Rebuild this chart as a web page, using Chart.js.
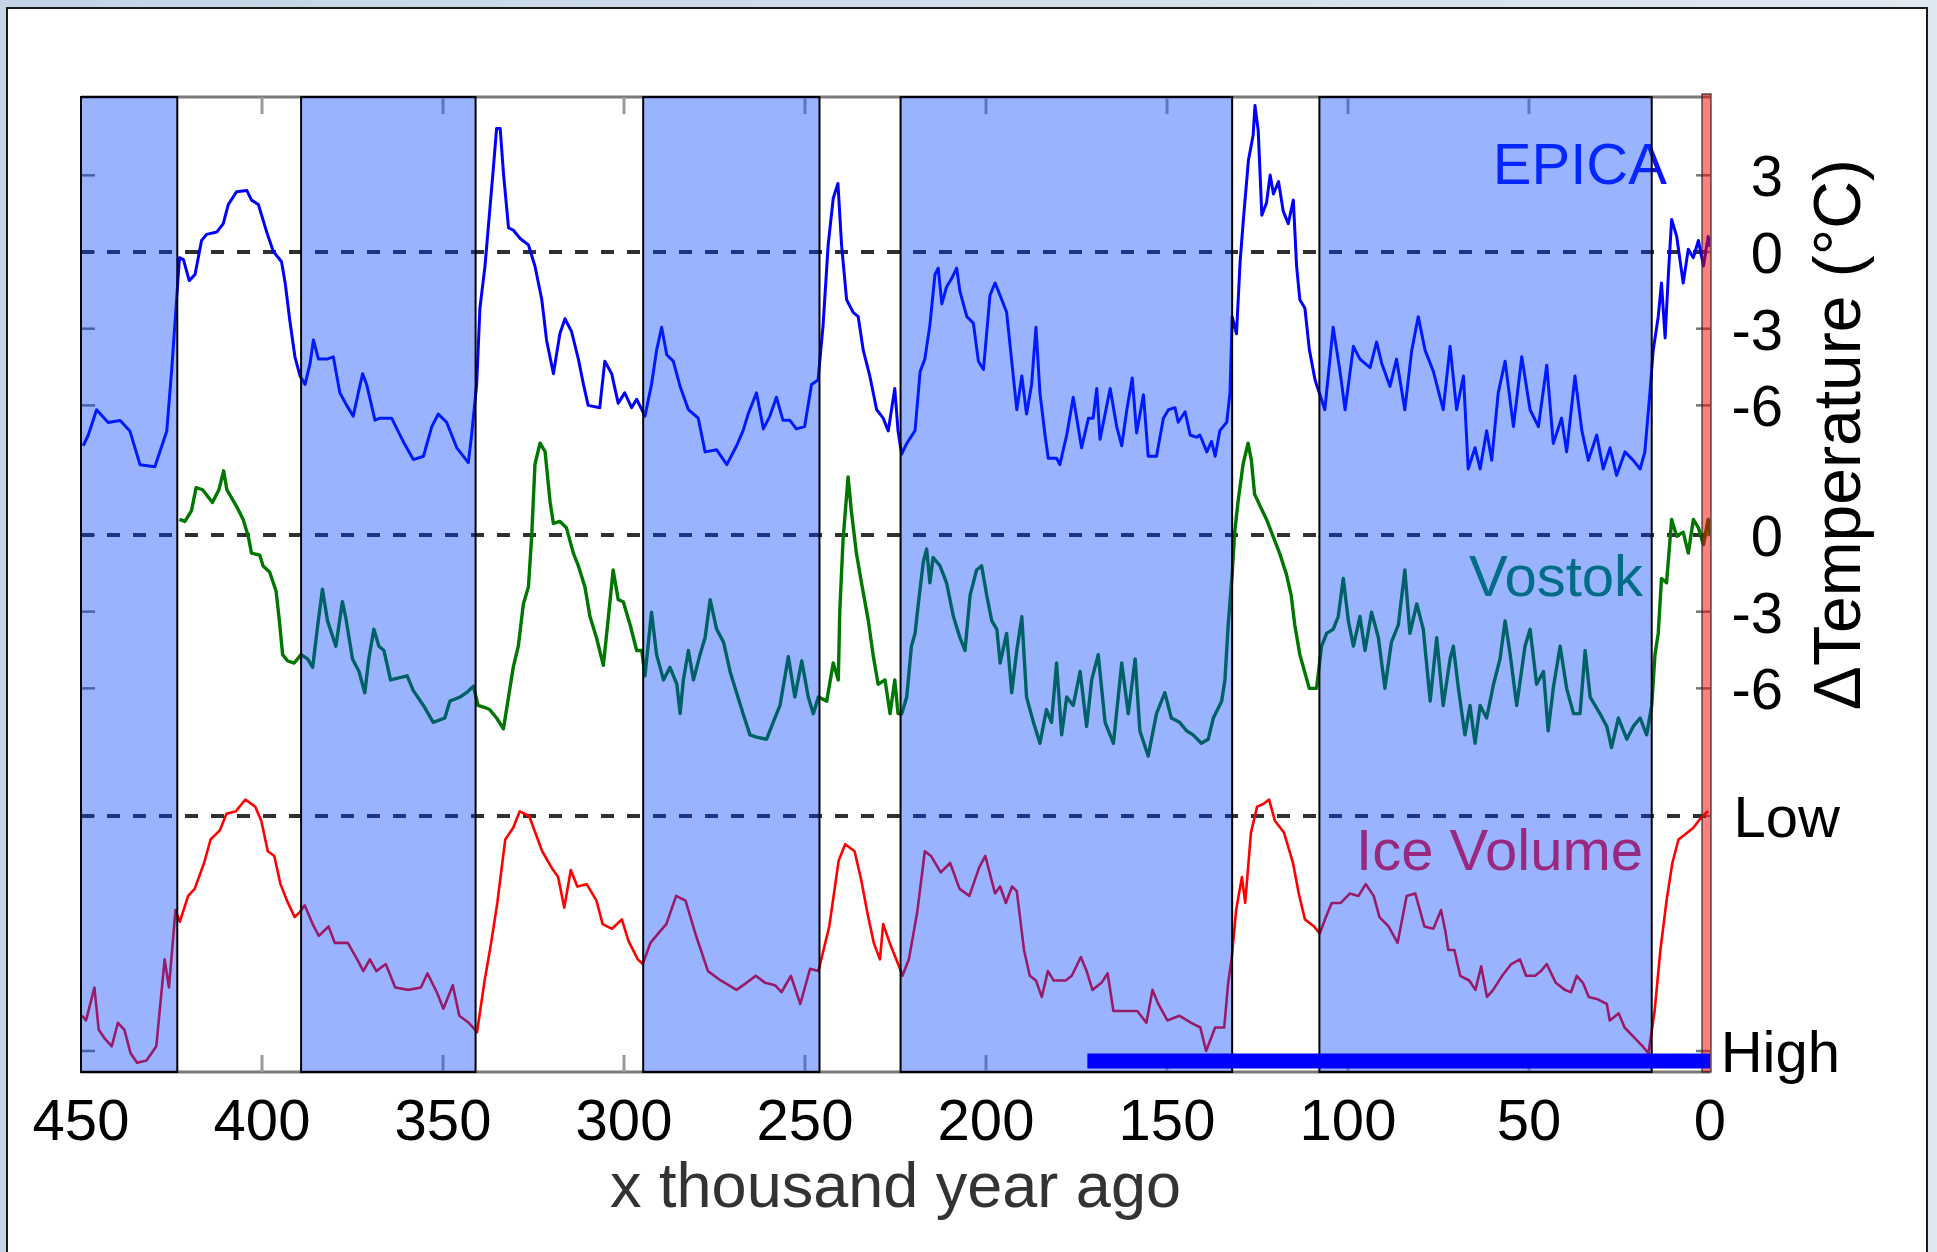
<!DOCTYPE html>
<html>
<head>
<meta charset="utf-8">
<script src="https://cdn.jsdelivr.net/npm/chart.js@4.4.1/dist/chart.umd.min.js"></script>
<style>
html,body{margin:0;padding:0;width:1937px;height:1252px;overflow:hidden;
  background:linear-gradient(90deg,#c4d4e5 0%,#d2dfeb 55%,#dfe9f2 100%);}
#box{position:absolute;left:6px;top:7px;width:1918px;height:1300px;background:#fff;border:2px solid #1a1a1a;}
#wrap{position:absolute;left:0;top:0;width:1937px;height:1252px;}
</style>
</head>
<body>
<div id="box"></div>
<div id="wrap"><canvas id="c"></canvas></div>
<script>
const FONT = '"Liberation Sans", Arial, Helvetica, sans-serif';

// ---------- DATA (ages in thousand years ago) ----------
const epicaAge = [449.4,448.0,445.7,442.5,439.2,436.5,433.7,429.6,426.3,424.9,423.6,422.8,421.7,420.1,418.5,416.7,415.3,412.5,410.7,409.3,407.0,404.2,402.9,401.0,398.7,396.9,394.6,393.6,392.3,390.9,389.5,388.1,386.7,385.8,384.4,382.1,380.3,378.5,376.6,374.8,373.4,372.2,371.1,368.8,367.4,364.2,361.0,358.2,355.4,353.1,351.3,349.0,346.2,343.0,342.1,340.7,339.8,338.4,
336.1,335.2,334.2,333.3,331.9,330.6,328.7,326.4,324.6,322.7,321.4,319.5,317.7,316.3,314.5,312.6,311.2,309.9,306.7,305.3,303.4,301.6,299.8,297.9,296.5,294.2,292.4,291.0,289.6,288.2,286.4,284.5,282.2,279.5,277.6,274.4,271.6,268.9,267.1,265.7,263.4,261.5,259.7,257.9,256.1,254.2,252.4,250.1,248.2,246.4,245.0,243.6,242.2,240.9,239.9,238.5,236.7,235.3,233.9,232.1,230.2,228.4,227.0,225.2,224.3,
223.3,221.9,219.6,218.2,216.9,215.5,214.1,213.2,212.2,210.9,209.5,208.1,207.2,205.3,203.5,202.1,200.7,198.9,197.5,196.1,194.3,192.9,191.5,190.1,188.8,187.4,186.2,185.1,183.7,182.8,180.5,179.6,177.7,175.9,173.6,171.7,170.4,169.4,168.5,165.7,163.9,162.5,161.1,159.6,158.4,156.5,155.2,152.9,151.0,149.6,147.8,146.9,145.0,143.6,141.8,140.9,139.0,137.7,136.7,135.4,133.5,132.6,132.0,130.8,129.8,128.9,127.5,126.2,125.7,124.8,123.8,122.5,121.5,120.6,119.2,117.9,116.5,115.1,114.2,113.3,111.9,110.7,
109.1,106.4,104.1,102.2,100.8,98.5,96.7,93.9,92.1,90.7,88.4,86.6,84.3,82.4,80.6,78.7,76.4,73.7,71.8,70.0,68.1,66.8,64.9,63.5,61.7,60.3,58.5,56.6,54.3,52.0,49.7,47.4,45.1,43.3,41.0,39.6,37.3,35.4,33.6,31.3,29.5,27.6,25.8,23.5,21.2,19.3,18.0,16.6,15.7,14.3,13.4,12.4,11.5,10.6,9.2,7.4,6.0,4.6,3.2,1.8,0.5,0];
const epicaTemp = [-7.58,-7.17,-6.17,-6.67,-6.59,-7.0,-8.32,-8.40,-7.0,-4.52,-1.87,-0.22,-0.3,-1.12,-0.88,0.45,0.69,0.78,1.11,1.86,2.36,2.41,2.03,1.86,0.78,0.03,-0.38,-1.21,-2.7,-4.1,-4.85,-5.18,-4.35,-3.44,-4.19,-4.19,-4.1,-5.51,-6.0,-6.42,-5.51,-4.76,-5.18,-6.58,-6.5,-6.5,-7.41,-8.12,-7.99,-6.83,-6.34,-6.66,-7.66,-8.24,-7.16,-5.18,-2.2,-0.55,
3.26,4.83,4.83,3.09,0.94,0.86,0.53,0.28,-0.55,-1.87,-3.44,-4.76,-3.19,-2.61,-3.11,-4.19,-5.18,-6.0,-6.09,-4.27,-4.76,-5.92,-5.51,-6.09,-5.76,-6.42,-5.18,-3.85,-2.94,-4.02,-4.27,-5.26,-6.17,-6.5,-7.82,-7.74,-8.32,-7.58,-6.99,-6.34,-5.51,-6.92,-6.42,-5.68,-6.58,-6.58,-6.92,-6.83,-5.18,-5.01,-2.86,0.28,2.1,2.68,0.28,-1.87,-2.36,-2.53,-3.85,-4.85,-6.17,-6.5,-7.0,-5.34,-7.0,
-7.91,-7.49,-6.99,-4.68,-4.19,-2.86,-0.88,-0.63,-2.03,-1.37,-1.04,-0.63,-1.54,-2.53,-2.78,-4.27,-4.6,-1.7,-1.21,-1.7,-2.36,-4.27,-6.17,-4.85,-6.34,-5.18,-2.94,-5.51,-7.16,-8.07,-8.07,-8.32,-7.16,-5.68,-7.66,-6.5,-6.5,-5.34,-7.33,-5.34,-6.83,-7.58,-6.17,-4.93,-7.08,-5.59,-7.99,-7.99,-6.5,-6.17,-6.09,-6.66,-6.25,-7.16,-7.25,-7.16,-7.82,-7.41,-7.99,-6.99,-6.66,-5.51,-2.53,-3.2,-0.38,1.27,3.59,4.58,5.73,4.75,1.44,1.93,3.01,2.27,2.76,1.6,1.11,2.03,-0.55,-1.87,-2.2,-3.8,
-5.01,-6.17,-2.94,-4.68,-6.17,-3.69,-4.19,-4.52,-3.52,-4.35,-5.26,-4.19,-6.17,-3.85,-2.53,-3.85,-4.68,-6.17,-3.69,-6.17,-4.85,-8.49,-7.66,-8.49,-6.99,-8.15,-5.51,-4.27,-6.83,-4.1,-6.17,-6.83,-4.43,-7.49,-6.5,-7.82,-4.85,-6.99,-8.15,-7.16,-8.49,-7.66,-8.74,-7.82,-8.15,-8.49,-7.82,-5.51,-3.85,-2.53,-1.21,-3.36,-0.88,1.27,0.61,-1.21,0.11,-0.22,0.45,-0.55,0.61,0.2];

const vostokAge = [422.8,421.3,419.5,418.2,416.4,413.7,411.9,410.6,409.7,407.0,405.2,403.8,402.9,400.6,399.7,397.9,396.1,395.2,394.3,392.9,391.1,389.2,387.4,386.0,384.6,383.3,381.9,379.6,377.8,376.9,375.0,373.2,371.6,370.5,369.1,367.7,366.3,364.5,362.2,359.9,358.2,355.4,352.7,349.5,348.1,345.3,343.5,341.6,340.3,338.4,337.1,
335.2,333.3,331.9,330.6,329.2,327.8,326.4,325.5,324.6,323.2,321.8,320.4,319.5,317.7,315.9,314.0,312.6,310.8,309.4,307.6,305.7,304.3,303.0,301.6,300.2,298.3,296.5,295.1,294.2,292.4,291.0,289.1,287.3,285.4,284.5,283.6,282.2,280.8,279.0,277.6,276.2,274.4,272.5,270.7,268.9,267.1,265.2,263.4,260.6,258.8,256.9,254.6,252.8,250.9,249.1,247.7,246.3,244.0,242.2,240.8,240.4,239.5,238.1,237.2,235.8,234.4,232.5,231.2,229.8,227.9,226.5,225.2,224.3,
223.3,221.9,220.6,219.6,218.7,217.3,216.4,215.5,214.6,212.7,210.9,209.0,207.2,205.8,204.4,202.6,201.2,199.8,198.4,197.0,196.1,194.3,192.9,191.5,190.1,188.8,186.9,185.1,183.3,181.9,180.5,179.1,177.7,175.9,174.0,172.2,170.8,169.0,167.1,164.8,162.5,160.7,158.8,157.5,155.2,152.9,150.6,148.8,146.5,144.6,142.8,140.5,138.6,137.2,134.9,134.0,133.1,132.0,131.3,130.4,129.0,127.6,126.7,125.8,123.9,122.5,120.7,118.9,117.0,115.7,114.7,113.3,112.0,110.7,
108.7,107.3,105.9,104.1,102.7,101.3,99.9,98.5,96.7,95.3,93.5,91.6,89.8,88.0,86.1,84.3,82.9,81.0,79.2,77.3,75.5,73.7,71.8,70.9,69.5,67.7,66.3,64.9,63.5,61.7,59.8,58.0,56.6,55.2,53.4,51.1,49.7,47.9,46.0,44.7,43.3,41.4,39.6,37.7,35.9,34.5,33.1,30.4,28.5,27.2,25.3,23.0,21.2,19.3,17.5,16.1,15.2,14.3,13.4,12.0,10.6,9.2,7.4,6.0,4.6,3.2,1.8,0.5,0];
const vostokTemp = [0.61,0.53,0.94,1.85,1.77,1.27,1.77,2.51,1.77,1.11,0.61,-0.05,-0.71,-0.79,-1.21,-1.45,-2.2,-3.36,-4.68,-4.93,-5.01,-4.68,-4.85,-5.18,-3.52,-2.12,-3.36,-4.35,-2.61,-3.2,-4.85,-5.34,-6.17,-4.85,-3.69,-4.35,-4.52,-5.67,-5.59,-5.51,-6.09,-6.67,-7.33,-7.16,-6.5,-6.34,-6.17,-5.92,-6.67,-6.75,-6.83,
-7.16,-7.58,-6.34,-5.18,-4.35,-2.7,-2.03,-0.05,2.76,3.59,3.26,1.27,0.45,0.53,0.28,-0.71,-1.21,-2.03,-3.19,-4.02,-5.1,-3.2,-1.37,-2.53,-2.61,-3.52,-4.52,-4.52,-5.51,-3.02,-4.68,-5.67,-5.18,-5.84,-6.99,-5.67,-4.52,-5.67,-4.68,-4.02,-2.53,-3.69,-4.19,-5.34,-6.17,-6.99,-7.82,-7.91,-7.99,-7.33,-6.67,-4.76,-6.34,-4.93,-6.34,-6.99,-6.34,-6.5,-5.01,-5.67,-3.02,-0.22,2.27,0.94,-0.71,-1.87,-3.36,-4.68,-5.84,-5.67,-6.99,-5.67,-6.99,
-7.0,-6.34,-4.35,-3.85,-2.7,-1.04,-0.55,-1.87,-0.88,-1.21,-1.87,-3.19,-4.02,-4.52,-2.36,-1.37,-1.21,-2.36,-3.36,-3.69,-5.01,-3.85,-6.17,-4.52,-3.2,-6.34,-7.33,-8.15,-6.83,-7.33,-5.01,-7.82,-6.34,-6.67,-5.34,-7.49,-5.67,-4.68,-7.33,-8.15,-5.01,-7.0,-4.85,-7.66,-8.65,-6.99,-6.17,-7.16,-7.33,-7.66,-7.82,-8.15,-7.99,-7.16,-6.5,-5.67,-3.52,-1.54,0.11,1.27,2.76,3.59,2.93,1.6,1.02,0.61,-0.05,-0.71,-1.54,-2.36,-3.52,-4.68,-5.34,-6.0,
-6.0,-4.35,-3.85,-3.69,-3.19,-1.7,-3.36,-4.35,-3.19,-4.52,-3.02,-4.02,-6.0,-4.19,-3.52,-1.37,-3.85,-2.7,-3.69,-6.5,-4.02,-6.67,-4.85,-4.35,-6.0,-7.82,-6.67,-8.15,-6.67,-7.16,-5.84,-4.85,-3.36,-4.68,-6.67,-4.35,-3.69,-5.84,-5.34,-7.66,-6.0,-4.35,-6.0,-6.99,-6.99,-4.52,-6.34,-6.99,-7.49,-8.32,-7.16,-7.99,-7.49,-7.16,-7.82,-6.67,-4.68,-3.85,-1.7,-1.87,0.61,-0.05,0.11,-0.71,0.61,0.28,-0.38,0.61,0.0];

// relative ice volume: 0 = Low (interglacial), 100 = High (glacial maximum)
const iceAge = [449.7,448.6,446.3,445.1,443.3,441.5,439.8,438.0,436.3,434.5,431.9,429.2,426.9,425.7,423.9,422.7,420.4,418.6,416.0,414.2,411.6,409.8,407.2,404.6,401.9,400.2,398.4,396.6,394.9,393.1,391.0,389.6,388.2,386.0,384.3,381.6,379.9,376.3,373.7,372.0,370.2,368.4,365.8,363.2,359.6,356.1,354.3,351.7,349.9,347.3,345.5,342.9,341.1,340.6,338.5,336.7,335.0,332.8,330.6,328.8,326.2,322.6,320.0,318.2,316.5,314.7,312.9,310.3,307.6,305.9,303.3,300.6,298.8,296.2,294.8,292.7,290.0,288.3,285.6,283.0,280.3,276.8,273.3,268.9,266.2,263.6,261.0,258.3,256.5,253.9,251.3,248.6,246.3,243.3,240.7,238.9,236.3,234.5,232.8,231.0,229.3,228.4,226.6,224.0,223.1,221.3,219.0,216.9,215.2,212.5,209.9,207.3,204.6,201.9,200.2,197.5,196.1,194.5,192.8,191.5,189.5,187.9,186.2,184.6,182.9,181.3,178.0,176.3,173.8,172.2,170.6,168.1,166.4,164.8,161.5,158.2,155.7,154.0,152.4,149.9,146.6,143.3,140.8,139.2,136.7,134.2,133.1,132.1,130.9,129.3,128.4,126.8,125.1,123.5,121.8,120.2,117.7,115.2,113.6,111.9,109.4,107.8,106.1,104.5,102.0,99.5,97.1,95.1,92.9,91.3,88.8,86.3,83.8,81.4,78.9,76.4,74.3,73.1,72.3,70.6,69.0,66.5,64.8,63.2,61.6,59.9,57.4,54.9,52.5,50.8,48.3,46.7,45.1,42.6,40.1,38.4,36.8,35.1,33.5,31.0,28.5,27.7,25.2,23.6,21.1,18.6,17.0,15.3,13.7,12.0,10.4,8.7,6.2,4.6,2.1,0.5];
const iceVolume = [85,87,73,91,95,98,88,91,101,105,104,98,61,73,40,45,34,31,20,10,6,-1,-2,-7,-4,2,15,17,29,36,43,41,38,46,51,47,54,54,61,66,61,66,63,73,74,73,67,75,82,72,85,88,91,92,70,54,37,10,5,-2,0,15,22,26,39,23,30,29,36,46,48,44,53,61,63,54,49,46,34,36,50,66,70,74,71,68,71,72,75,68,80,65,66,47,19,12,15,27,41,54,61,46,54,64,68,61,41,15,17,24,20,31,34,22,17,33,30,37,30,32,57,68,70,77,66,70,70,68,60,66,74,71,67,83,83,83,88,74,80,87,85,88,90,100,90,90,71,60,40,26,37,7,-4,-5,-7,2,7,20,33,44,47,50,43,37,37,33,34,29,34,43,47,54,34,33,47,48,40,49,57,57,68,70,74,64,77,74,68,63,61,68,68,66,63,71,74,75,68,71,77,78,80,87,84,90,94,98,101,83,57,36,20,10,7,5,0,-2];

const epicaTickValues = [3, 0, -3, -6];
const vostokTickValues = [0, -3, -6];
const iceTickValues = [0, 100];
const iceTickLabels = ['Low', 'High'];
const glacialPeriods = [[450, 423.4], [389.2, 341], [294.7, 246], [223.6, 132], [107.9, 16.1]];
const recordSpan = [172, 0];
const presentMarker = [2.2, 0];
const seriesNames = ['EPICA', 'Vostok', 'Ice Volume'];

// ---------- build ----------
const toPts = (ages, vals) => ages.map((a, i) => ({x: a, y: vals[i]}));
const ICE_BAR_LEVEL = 104.3;

const datasets = [
  {label:'record', data: recordSpan.map(a => ({x:a, y:ICE_BAR_LEVEL})), yAxisID:'yI',
   borderColor:'#0000ff', borderWidth:15, borderCapStyle:'butt', pointRadius:0, clip:20},
  {label: seriesNames[0], data: toPts(epicaAge, epicaTemp), yAxisID:'yE',
   borderColor:'#0000ff', borderWidth:3, pointRadius:0, tension:0},
  {label: seriesNames[1], data: toPts(vostokAge, vostokTemp), yAxisID:'yV',
   borderColor:'#007700', borderWidth:3.4, pointRadius:0, tension:0},
  {label: seriesNames[2], data: toPts(iceAge, iceVolume), yAxisID:'yI',
   borderColor:'#ff0000', borderWidth:2.6, pointRadius:0, tension:0},
  {label:'zeroE', data:[{x:450,y:0},{x:0,y:0}], yAxisID:'yE', borderColor:'#303030', borderWidth:4, borderDash:[13,13], pointRadius:0},
  {label:'zeroV', data:[{x:450,y:0},{x:0,y:0}], yAxisID:'yV', borderColor:'#303030', borderWidth:4, borderDash:[13,13], pointRadius:0},
  {label:'zeroI', data:[{x:450,y:0},{x:0,y:0}], yAxisID:'yI', borderColor:'#303030', borderWidth:4, borderDash:[13,13], pointRadius:0}
];

function seg(ctx, x0, y0, x1, y1){ ctx.beginPath(); ctx.moveTo(x0,y0); ctx.lineTo(x1,y1); ctx.stroke(); }

const decor = {
  id: 'decor',
  beforeDatasetsDraw(chart){
    const {ctx, chartArea:a, scales:{x, yE, yV, yI}} = chart;
    ctx.save();
    ctx.lineCap = 'butt';
    ctx.strokeStyle = '#7a7a7a'; ctx.lineWidth = 3;
    seg(ctx, a.left, a.top, a.right, a.top);
    seg(ctx, a.left, a.bottom, a.right, a.bottom);
    ctx.strokeStyle = '#9a9a9a'; ctx.lineWidth = 3;
    x.ticks.forEach(t => {
      if (t.value <= 0 || t.value >= 450) return;
      const px = x.getPixelForValue(t.value);
      seg(ctx, px, a.top, px, a.top + 17);
      seg(ctx, px, a.bottom - 17, px, a.bottom);
    });
    ctx.strokeStyle = '#777'; ctx.lineWidth = 2.5;
    const ys = [...epicaTickValues.map(v => yE.getPixelForValue(v)),
                ...vostokTickValues.map(v => yV.getPixelForValue(v)),
                ...iceTickValues.map(v => yI.getPixelForValue(v))];
    ys.forEach(py => { seg(ctx, a.left, py, a.left + 14, py); seg(ctx, a.right - 14, py, a.right, py); });
    // series names
    ctx.font = '58px ' + FONT;
    ctx.textAlign = 'right'; ctx.textBaseline = 'alphabetic';
    ctx.fillStyle = '#0a14ff';
    ctx.fillText(seriesNames[0], x.getPixelForValue(11.9), yE.getPixelForValue(2.66));
    ctx.fillStyle = '#058a3a';
    ctx.fillText(seriesNames[1], x.getPixelForValue(18.5), yV.getPixelForValue(-2.39));
    ctx.fillStyle = '#ff1a2a';
    ctx.fillText(seriesNames[2], x.getPixelForValue(18.5), yI.getPixelForValue(23));
    ctx.restore();
  },
  beforeDatasetDraw(chart, args){
    if (args.index !== 0) return;
    const {ctx, chartArea:a, scales:{x}} = chart;
    ctx.save();
    glacialPeriods.forEach(([g0, g1]) => {
      const x0 = x.getPixelForValue(g0), x1 = x.getPixelForValue(g1);
      ctx.fillStyle = 'rgba(0,64,255,0.4)';
      ctx.fillRect(x0, a.top, x1 - x0, a.bottom - a.top);
      ctx.strokeStyle = '#000'; ctx.lineWidth = 2;
      ctx.strokeRect(x0, a.top, x1 - x0, a.bottom - a.top);
    });
    const p0 = x.getPixelForValue(presentMarker[0]), p1 = x.getPixelForValue(presentMarker[1]) + 1;
    ctx.fillStyle = 'rgba(255,0,0,0.5)';
    ctx.fillRect(p0, a.top - 3, p1 - p0, a.bottom - a.top + 3);
    ctx.strokeStyle = 'rgba(40,40,40,0.8)'; ctx.lineWidth = 1.5;
    ctx.strokeRect(p0, a.top - 3, p1 - p0, a.bottom - a.top + 3);
    ctx.restore();
  },
  afterDraw(chart){
    const {ctx, chartArea:a, scales:{yE, yV, yI}} = chart;
    ctx.save();
    ctx.fillStyle = '#000';
    ctx.font = '58px ' + FONT;
    ctx.textAlign = 'right'; ctx.textBaseline = 'middle';
    const dy = 5;
    epicaTickValues.forEach(v => ctx.fillText(String(v), a.right + 73, yE.getPixelForValue(v) + dy));
    vostokTickValues.forEach(v => ctx.fillText(String(v), a.right + 73, yV.getPixelForValue(v) + dy));
    iceTickValues.forEach((v, i) => ctx.fillText(iceTickLabels[i], a.right + 130, yI.getPixelForValue(v) + dy));
    ctx.translate(a.right + 132, (a.top + yV.getPixelForValue(-6)) / 2 + 42);
    ctx.rotate(-Math.PI / 2);
    ctx.font = '66px ' + FONT;
    ctx.textAlign = 'center'; ctx.textBaseline = 'middle';
    ctx.fillText('\u0394Temperature (\u00B0C)', 0, 0);
    ctx.restore();
  }
};

new Chart(document.getElementById('c'), {
  type: 'line',
  data: { datasets },
  options: {
    responsive: true, maintainAspectRatio: false, animation: false, devicePixelRatio: 1,
    parsing: true, normalized: true,
    layout: { padding: { left: 81, right: 227, top: 97, bottom: 0 } },
    plugins: { legend: {display:false}, tooltip: {enabled:false} },
    elements: { line: { tension: 0, borderJoinStyle: 'round' } },
    scales: {
      x: { type:'linear', reverse:true, min:0, max:450, position:'bottom',
           grid:{display:false, drawTicks:false}, border:{display:false},
           ticks:{stepSize:50, autoSkip:false, maxRotation:0, padding:17, color:'#000', font:{family:FONT, size:58}},
           title:{display:true, text:'x thousand year ago', color:'#333', font:{family:FONT, size:63}, padding:{top:0, bottom:25}},
           afterFit(s){ s.height = 180; } },
      yE: { type:'linear', display:false, min:-32.08, max:6.064 },
      yV: { type:'linear', display:false, min:-21.01, max:17.136 },
      yI: { type:'linear', display:false, reverse:true, min:-305.96, max:108.94 }
    }
  },
  plugins: [decor]
});
</script>
</body>
</html>
